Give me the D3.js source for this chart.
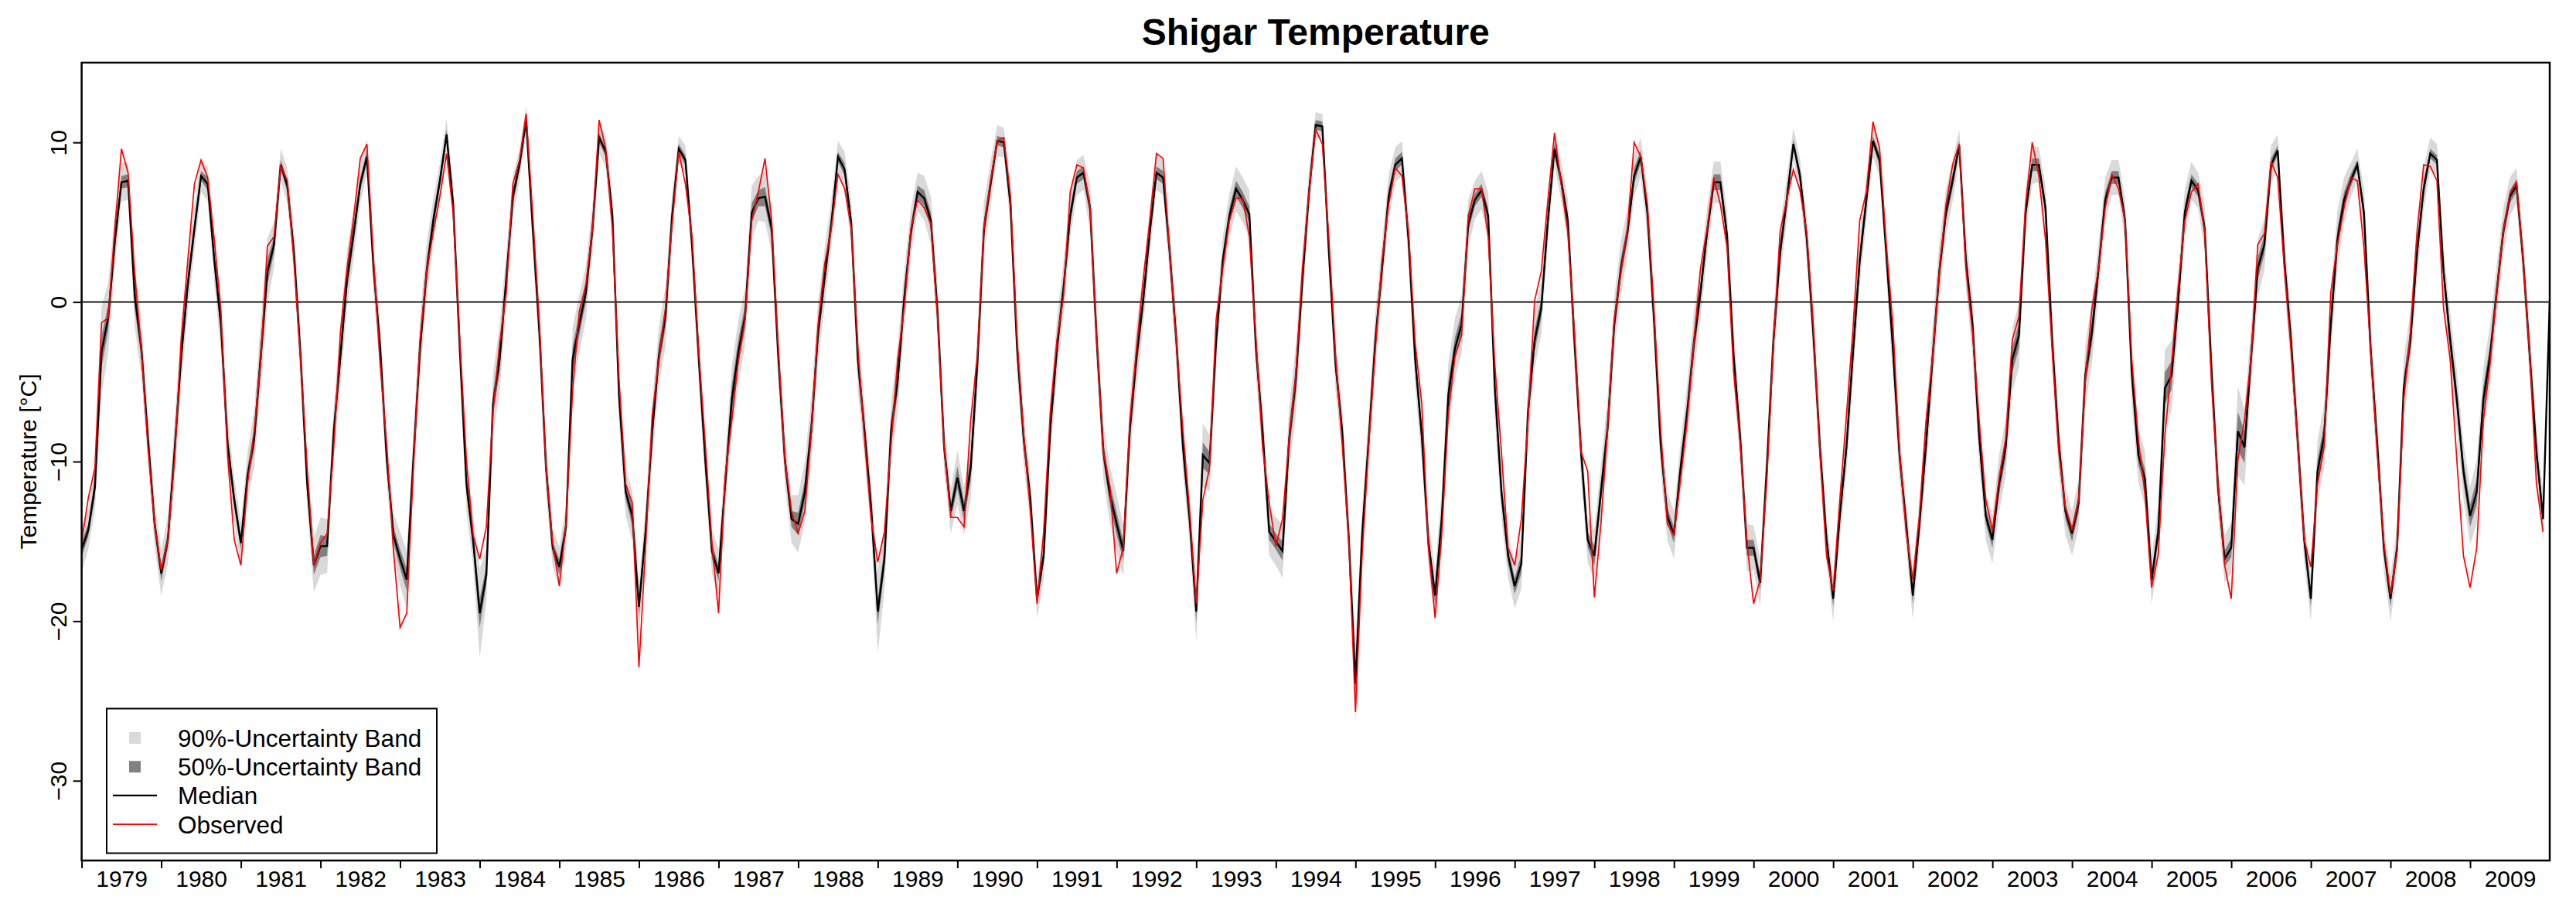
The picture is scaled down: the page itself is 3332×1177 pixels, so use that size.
<!DOCTYPE html>
<meta charset="utf-8">
<style>
body { margin: 0; background: #fff; }
text { font-family: "Liberation Sans", Arial, Helvetica, sans-serif; fill: #000; }
.band90 { fill: #d9d9d9; stroke: none; }
.band50 { fill: #808080; stroke: none; }
.median { fill: none; stroke: #000; stroke-width: 2.4; stroke-linejoin: miter; }
.observed { fill: none; stroke: #ff0000; stroke-width: 1.7; stroke-linejoin: miter; }
.axis path { display: none; }
.axis line { stroke: #000; stroke-width: 2; }
.axis text { font-size: 30px; }
</style>
<svg width="3332" height="1177"></svg>
<script src="https://cdn.jsdelivr.net/npm/d3@7/dist/d3.min.js"></script>
<script>

// monthly values, Jan 1979 .. Dec 2009 (one row per year)
var median = [
  -15.5, -14.3, -11.6, -3.1, -1.0, 3.8, 7.5, 7.6, 0.4, -2.9, -8.6, -13.9,
  -17.0, -14.9, -9.4, -3.4, 1.1, 4.6, 7.9, 7.4, 2.6, -1.4, -8.9, -12.4,
  -15.1, -10.9, -8.6, -3.4, 1.9, 3.6, 8.6, 7.3, 3.1, -3.4, -11.4, -16.5,
  -15.3, -15.3, -8.1, -3.4, 1.4, 4.3, 7.4, 9.1, 2.1, -2.9, -9.9, -14.6,
  -16.1, -17.4, -9.9, -2.9, 1.9, 5.1, 7.6, 10.5, 6.1, -2.9, -11.4, -14.9,
  -19.5, -17.1, -6.4, -3.6, 1.4, 6.6, 8.6, 11.4, 4.6, -1.9, -10.4, -15.4,
  -16.6, -14.1, -3.6, -1.4, 0.6, 4.6, 10.3, 9.4, 5.4, -5.9, -11.9, -13.4,
  -19.1, -14.4, -8.1, -3.4, -0.9, 5.4, 9.6, 8.9, 3.6, -3.4, -9.9, -15.6,
  -17.0, -11.4, -6.1, -3.1, -0.9, 5.6, 6.5, 6.6, 4.6, -3.4, -9.9, -13.6,
  -13.9, -11.9, -7.9, -1.9, 1.6, 4.9, 9.1, 8.3, 4.9, -3.6, -8.1, -12.9,
  -19.4, -16.1, -8.1, -4.9, 0.3, 4.4, 6.9, 6.5, 5.1, -0.6, -9.1, -13.1,
  -11.0, -13.1, -10.4, -3.9, 4.6, 7.4, 10.1, 10.0, 6.1, -2.9, -8.6, -12.4,
  -18.6, -15.9, -7.9, -2.9, 0.9, 5.4, 7.8, 8.1, 5.9, -2.4, -9.4, -12.1,
  -13.9, -15.6, -7.9, -3.4, 0.1, 4.4, 8.1, 7.8, 3.1, -2.4, -9.1, -13.6,
  -19.4, -9.6, -10.1, -2.4, 2.6, 5.4, 7.1, 6.4, 5.5, -2.9, -8.1, -14.4,
  -15.0, -15.6, -8.6, -4.9, 1.4, 6.9, 11.1, 11.0, 3.1, -3.9, -8.1, -14.9,
  -23.9, -14.6, -8.6, -2.4, 2.1, 6.6, 8.6, 9.0, 3.9, -3.6, -8.4, -15.1,
  -18.4, -13.6, -5.8, -2.9, -1.4, 4.9, 6.4, 7.0, 5.4, -5.4, -11.9, -15.9,
  -17.8, -16.4, -6.9, -2.4, -0.4, 5.1, 9.6, 7.6, 5.1, -2.4, -9.4, -14.9,
  -15.9, -11.9, -7.9, -1.4, 2.1, 4.4, 7.9, 9.1, 5.6, -1.1, -8.9, -13.4,
  -14.6, -10.4, -6.9, -2.6, 0.6, 4.4, 7.5, 7.5, 4.2, -3.4, -8.6, -15.4,
  -15.4, -17.6, -10.4, -2.4, 3.1, 6.4, 9.9, 7.9, 4.1, -1.9, -9.1, -14.9,
  -18.6, -13.4, -9.1, -3.1, 2.6, 6.4, 10.1, 8.9, 3.1, -2.9, -9.6, -13.9,
  -18.4, -13.9, -8.9, -3.4, 1.9, 5.6, 7.6, 9.8, 2.6, -1.4, -8.4, -13.4,
  -14.9, -11.4, -9.1, -3.6, -2.1, 5.6, 8.6, 8.6, 5.9, -2.4, -8.9, -13.1,
  -14.5, -12.6, -4.6, -1.9, 2.1, 6.4, 7.8, 7.8, 5.1, -4.4, -9.6, -11.1,
  -17.4, -14.4, -5.4, -4.6, 0.1, 5.6, 7.6, 7.0, 4.6, -4.1, -11.6, -16.1,
  -15.4, -8.1, -9.1, -3.4, 2.1, 3.6, 8.6, 9.5, 2.6, -2.4, -8.6, -14.9,
  -18.6, -10.6, -8.4, -1.4, 3.9, 6.4, 7.6, 8.6, 5.6, -2.9, -8.9, -15.4,
  -18.6, -15.4, -5.4, -2.4, 3.1, 7.1, 9.3, 8.9, 1.9, -2.4, -6.1, -10.6,
  -13.4, -11.9, -6.1, -3.4, 0.6, 4.4, 6.6, 7.3, 2.6, -3.4, -9.4, -13.6,
  0.0
];

var observed = [
  -15.0, -12.3, -10.4, -1.3, -1.0, 4.6, 9.6, 8.1, 1.8, -3.0, -9.1, -13.9,
  -16.8, -14.9, -9.9, -2.4, 2.6, 7.4, 8.9, 7.8, 3.9, -0.6, -9.6, -14.9,
  -16.5, -11.4, -8.1, -3.6, 3.5, 4.1, 8.5, 7.6, 2.6, -3.6, -10.4, -16.5,
  -15.1, -14.5, -9.1, -1.9, 2.1, 5.3, 9.0, 9.9, 2.6, -3.9, -9.1, -15.6,
  -20.4, -19.5, -10.4, -2.4, 1.9, 4.4, 6.6, 9.3, 5.6, -2.4, -9.9, -14.6,
  -16.1, -14.1, -6.9, -2.6, 0.6, 7.4, 8.9, 11.8, 5.4, -1.4, -10.4, -15.1,
  -17.8, -13.9, -5.6, -0.6, 1.1, 4.6, 11.4, 9.6, 4.6, -4.9, -11.4, -12.6,
  -22.9, -15.4, -7.1, -3.6, -0.4, 4.9, 9.4, 7.4, 4.1, -3.1, -8.9, -15.1,
  -19.5, -10.9, -7.4, -3.6, -1.1, 5.1, 6.9, 9.0, 5.1, -2.9, -9.9, -13.1,
  -14.5, -13.1, -8.1, -1.4, 2.4, 4.6, 8.0, 7.1, 4.6, -2.9, -8.6, -13.6,
  -16.3, -14.4, -8.9, -3.6, -0.3, 4.6, 6.4, 5.9, 4.9, -0.9, -9.1, -13.5,
  -13.5, -14.1, -7.4, -3.4, 4.6, 7.6, 10.1, 10.3, 6.6, -2.4, -8.4, -13.1,
  -18.9, -14.4, -6.9, -2.4, 0.4, 6.9, 8.6, 8.4, 5.9, -2.4, -9.4, -11.6,
  -17.0, -15.4, -7.4, -2.9, 1.4, 5.1, 9.3, 9.0, 3.1, -2.5, -8.1, -13.1,
  -18.9, -12.4, -10.4, -1.1, 2.1, 5.1, 6.5, 6.5, 4.1, -2.4, -9.1, -12.6,
  -15.3, -13.6, -8.6, -4.6, 2.1, 6.9, 10.8, 9.9, 3.9, -3.4, -8.9, -14.9,
  -25.7, -15.9, -8.9, -2.9, 2.6, 6.1, 8.4, 7.9, 4.4, -2.6, -6.4, -15.4,
  -19.8, -14.6, -7.0, -3.4, -2.1, 5.4, 7.1, 7.1, 4.1, -3.9, -9.4, -15.4,
  -16.5, -13.6, -7.4, 0.1, 1.9, 6.4, 10.6, 7.4, 4.4, -1.9, -9.4, -10.6,
  -18.5, -13.9, -7.9, -1.1, 1.9, 4.6, 10.0, 9.1, 6.1, -0.6, -8.1, -13.9,
  -14.6, -11.1, -7.4, -2.6, 2.1, 4.6, 7.8, 6.1, 3.5, -4.4, -8.9, -15.1,
  -18.9, -17.4, -11.1, -2.6, 4.4, 6.4, 8.3, 7.0, 4.4, -1.4, -9.4, -15.9,
  -18.1, -12.4, -7.1, -1.6, 5.1, 6.9, 11.3, 9.6, 3.6, -1.4, -9.4, -14.4,
  -17.4, -13.4, -7.4, -3.4, 1.9, 6.1, 8.6, 9.9, 2.1, -1.9, -7.4, -12.4,
  -14.3, -11.1, -8.6, -2.4, -0.9, 6.1, 10.0, 7.9, 3.9, -2.9, -9.4, -12.9,
  -14.3, -12.4, -4.9, -0.4, 2.1, 5.9, 8.0, 7.1, 5.1, -3.6, -8.6, -12.1,
  -17.9, -15.8, -8.4, -3.9, 0.9, 5.1, 6.9, 7.4, 4.4, -4.9, -11.4, -16.5,
  -18.6, -9.9, -7.4, -3.4, 3.6, 4.3, 8.8, 7.8, 2.1, -2.9, -8.6, -14.9,
  -16.6, -11.4, -9.1, 0.6, 3.6, 5.9, 7.8, 7.6, 3.4, -2.9, -9.4, -15.1,
  -18.3, -15.6, -6.1, -1.9, 4.4, 8.6, 8.5, 7.6, -0.4, -3.6, -9.9, -15.9,
  -17.9, -15.4, -7.4, -3.9, 0.6, 4.4, 6.8, 7.5, 2.6, -3.4, -11.4, -14.4
];

// half width of the 90% band around the median
var spread90 = [
  1.4, 1.2, 1.5, 2.8, 2.2, 1.7, 1.2, 1.2, 2.0, 1.8, 1.5, 1.5,
  1.4, 1.5, 1.9, 2.0, 1.7, 1.4, 1.0, 1.1, 1.4, 1.8, 1.7, 1.4,
  1.3, 1.5, 1.8, 2.2, 2.1, 1.4, 1.0, 1.1, 1.4, 1.7, 1.5, 1.7,
  1.8, 1.7, 1.5, 2.0, 1.8, 1.6, 1.2, 1.1, 1.5, 1.7, 1.5, 1.4,
  1.7, 1.8, 1.7, 1.9, 1.8, 1.4, 1.1, 1.0, 1.4, 1.7, 1.7, 1.6,
  2.8, 1.7, 1.9, 2.1, 1.7, 1.3, 1.0, 0.9, 1.4, 1.7, 1.6, 1.2,
  1.3, 1.4, 2.0, 1.8, 1.7, 1.6, 1.0, 1.0, 1.4, 1.7, 1.5, 1.6,
  1.6, 1.5, 1.9, 1.8, 1.9, 1.4, 0.8, 0.9, 1.4, 1.7, 1.5, 1.4,
  1.5, 1.7, 2.1, 2.0, 1.8, 1.7, 1.4, 1.6, 1.5, 1.7, 1.6, 1.5,
  1.8, 1.9, 2.1, 1.9, 1.8, 1.5, 1.0, 1.1, 1.5, 2.0, 1.7, 1.6,
  2.6, 2.0, 1.8, 2.1, 1.7, 1.5, 1.2, 1.4, 1.5, 1.7, 1.5, 1.4,
  1.7, 1.5, 2.0, 1.9, 1.7, 1.4, 1.0, 0.9, 1.4, 1.8, 1.6, 1.5,
  1.2, 1.5, 1.9, 1.8, 1.7, 1.4, 1.1, 1.1, 1.5, 1.7, 1.7, 1.8,
  1.8, 1.6, 1.8, 2.0, 1.7, 1.5, 1.1, 1.1, 1.5, 1.7, 1.6, 1.5,
  1.9, 2.0, 1.8, 1.7, 1.5, 1.4, 1.4, 1.4, 1.5, 1.8, 1.6, 1.5,
  1.5, 1.7, 2.0, 2.2, 1.7, 1.4, 0.8, 0.8, 1.5, 1.7, 1.6, 1.4,
  2.5, 1.6, 1.7, 1.8, 1.6, 1.4, 1.1, 1.1, 1.5, 1.7, 1.7, 1.5,
  1.6, 1.8, 2.0, 1.9, 1.8, 1.5, 1.2, 1.2, 1.5, 1.9, 1.7, 1.4,
  1.4, 1.6, 1.9, 1.8, 1.6, 1.4, 1.1, 1.2, 1.4, 1.7, 1.6, 1.4,
  1.6, 1.8, 1.9, 1.7, 1.7, 1.5, 1.3, 1.2, 1.5, 1.8, 1.7, 1.5,
  1.5, 1.6, 1.8, 2.0, 1.7, 1.5, 1.3, 1.3, 1.5, 1.7, 1.6, 1.5,
  1.4, 1.5, 1.7, 1.8, 1.6, 1.4, 1.0, 1.1, 1.4, 1.7, 1.6, 1.4,
  1.4, 1.5, 1.7, 1.8, 1.6, 1.4, 1.0, 1.1, 1.5, 1.8, 1.6, 1.5,
  1.5, 1.6, 1.8, 2.0, 1.8, 1.5, 1.3, 1.0, 1.7, 1.9, 1.7, 1.5,
  1.5, 1.8, 1.8, 2.0, 2.0, 1.5, 1.2, 1.1, 1.4, 1.8, 1.8, 1.5,
  1.4, 1.6, 1.9, 2.0, 1.6, 1.4, 1.1, 1.1, 1.4, 2.0, 1.7, 1.7,
  1.5, 1.7, 2.4, 2.2, 1.8, 1.5, 1.2, 1.1, 1.5, 1.8, 1.7, 1.5,
  1.6, 2.8, 2.4, 1.9, 1.8, 1.6, 1.2, 1.0, 1.5, 1.8, 1.6, 1.5,
  1.4, 1.9, 2.0, 2.0, 1.8, 1.4, 1.1, 1.0, 1.5, 1.8, 1.7, 1.5,
  1.4, 1.5, 1.9, 1.8, 1.7, 1.4, 1.0, 1.0, 1.5, 1.8, 1.8, 1.8,
  1.8, 2.0, 2.0, 1.9, 1.7, 1.5, 1.2, 1.1, 1.4, 1.7, 1.7, 1.5
];

// half width of the 50% band around the median
var spread50 = [
  0.5, 0.4, 0.6, 1.0, 0.8, 0.6, 0.4, 0.4, 0.8, 0.7, 0.5, 0.5,
  0.5, 0.5, 0.7, 0.8, 0.6, 0.5, 0.3, 0.4, 0.5, 0.7, 0.6, 0.5,
  0.4, 0.5, 0.7, 0.9, 0.8, 0.5, 0.3, 0.4, 0.5, 0.6, 0.5, 0.6,
  0.7, 0.6, 0.5, 0.7, 0.7, 0.6, 0.4, 0.4, 0.5, 0.6, 0.5, 0.5,
  0.6, 0.7, 0.6, 0.7, 0.7, 0.5, 0.4, 0.3, 0.5, 0.6, 0.6, 0.6,
  0.9, 0.6, 0.7, 0.8, 0.6, 0.5, 0.3, 0.3, 0.5, 0.6, 0.6, 0.4,
  0.5, 0.5, 0.8, 0.7, 0.6, 0.6, 0.3, 0.3, 0.5, 0.6, 0.5, 0.6,
  0.6, 0.5, 0.7, 0.7, 0.7, 0.5, 0.3, 0.3, 0.5, 0.6, 0.5, 0.5,
  0.5, 0.6, 0.9, 0.8, 0.7, 0.6, 0.5, 0.6, 0.5, 0.6, 0.6, 0.5,
  0.7, 0.7, 0.8, 0.7, 0.7, 0.5, 0.3, 0.4, 0.5, 0.8, 0.6, 0.6,
  0.8, 0.7, 0.7, 0.8, 0.6, 0.5, 0.4, 0.5, 0.5, 0.6, 0.5, 0.5,
  0.7, 0.6, 0.8, 0.7, 0.6, 0.5, 0.3, 0.3, 0.5, 0.7, 0.6, 0.5,
  0.4, 0.5, 0.7, 0.7, 0.6, 0.5, 0.4, 0.4, 0.5, 0.6, 0.6, 0.7,
  0.7, 0.6, 0.7, 0.8, 0.6, 0.5, 0.4, 0.4, 0.5, 0.6, 0.6, 0.5,
  0.7, 0.8, 0.7, 0.6, 0.5, 0.5, 0.5, 0.5, 0.5, 0.7, 0.6, 0.5,
  0.5, 0.6, 0.8, 0.9, 0.6, 0.5, 0.3, 0.3, 0.5, 0.6, 0.6, 0.5,
  0.8, 0.6, 0.6, 0.7, 0.6, 0.5, 0.4, 0.4, 0.5, 0.6, 0.6, 0.5,
  0.6, 0.7, 0.8, 0.7, 0.7, 0.5, 0.4, 0.4, 0.5, 0.7, 0.6, 0.5,
  0.5, 0.6, 0.7, 0.7, 0.6, 0.5, 0.4, 0.4, 0.5, 0.6, 0.6, 0.5,
  0.6, 0.7, 0.7, 0.6, 0.6, 0.5, 0.5, 0.4, 0.5, 0.7, 0.6, 0.5,
  0.5, 0.6, 0.7, 0.8, 0.6, 0.5, 0.5, 0.5, 0.5, 0.6, 0.6, 0.5,
  0.5, 0.5, 0.6, 0.7, 0.6, 0.5, 0.3, 0.4, 0.5, 0.6, 0.6, 0.5,
  0.5, 0.5, 0.6, 0.7, 0.6, 0.5, 0.3, 0.4, 0.5, 0.7, 0.6, 0.5,
  0.5, 0.6, 0.7, 0.8, 0.7, 0.5, 0.5, 0.3, 0.6, 0.7, 0.6, 0.5,
  0.5, 0.7, 0.7, 0.8, 0.8, 0.5, 0.4, 0.4, 0.5, 0.7, 0.7, 0.5,
  0.5, 0.6, 0.7, 0.8, 0.6, 0.5, 0.4, 0.4, 0.5, 0.8, 0.6, 0.6,
  0.5, 0.6, 1.0, 0.9, 0.7, 0.5, 0.4, 0.4, 0.5, 0.7, 0.6, 0.5,
  0.6, 1.2, 1.0, 0.7, 0.7, 0.6, 0.4, 0.3, 0.5, 0.7, 0.6, 0.5,
  0.5, 0.7, 0.8, 0.8, 0.7, 0.5, 0.4, 0.3, 0.5, 0.7, 0.6, 0.5,
  0.5, 0.5, 0.7, 0.7, 0.6, 0.5, 0.3, 0.3, 0.5, 0.7, 0.7, 0.7,
  0.7, 0.8, 0.8, 0.7, 0.6, 0.5, 0.4, 0.4, 0.5, 0.6, 0.6, 0.5
];

var years = d3.range(1979, 2010);
var yTicks = [10, 0, -10, -20, -30];
var legendLabels = ["90%-Uncertainty Band", "50%-Uncertainty Band", "Median", "Observed"];

var svg = d3.select("svg"),
    width = +svg.attr("width"),
    height = +svg.attr("height");

var plot = {left: 105.6, right: 3298, top: 81, bottom: 1113};

var x = d3.scaleLinear()
    .domain([1979, 2010])
    .range([plot.left, plot.right]);

var y = d3.scaleLinear()
    .domain([-35, 15])
    .range([plot.bottom, plot.top]);

function t(i) { return 1979 + i / 12; }

svg.append("rect")
    .attr("width", width)
    .attr("height", height)
    .attr("fill", "#fff");

svg.append("clipPath")
    .attr("id", "clip")
  .append("rect")
    .attr("x", plot.left)
    .attr("y", plot.top)
    .attr("width", plot.right - plot.left)
    .attr("height", plot.bottom - plot.top);

var g = svg.append("g").attr("clip-path", "url(#clip)");

var months = d3.range(observed.length);

var band = function(spread) {
  return d3.area()
      .x(function(i) { return x(t(i)); })
      .y0(function(i) { return y(median[i] - spread[i]); })
      .y1(function(i) { return y(median[i] + spread[i]); });
};

g.append("path")
    .datum(months)
    .attr("class", "band90")
    .attr("d", band(spread90));

g.append("path")
    .datum(months)
    .attr("class", "band50")
    .attr("d", band(spread50));

g.append("line")
    .attr("x1", plot.left)
    .attr("x2", plot.right)
    .attr("y1", y(0))
    .attr("y2", y(0))
    .attr("stroke", "#000")
    .attr("stroke-width", 1.8);

var line = d3.line()
    .x(function(d, i) { return x(t(i)); })
    .y(function(d) { return y(d); });

g.append("path")
    .datum(median)
    .attr("class", "median")
    .attr("d", line);

g.append("path")
    .datum(observed)
    .attr("class", "observed")
    .attr("d", line);

// axes
var yAxis = svg.append("g")
    .attr("class", "axis")
    .attr("transform", "translate(" + plot.left + ",0)")
    .call(d3.axisLeft(y).tickValues(yTicks).tickSize(11).tickFormat(d3.format("d")));

yAxis.selectAll("text")
    .attr("x", null)
    .attr("dy", null)
    .attr("text-anchor", "middle")
    .attr("transform", "translate(-19.6,0) rotate(-90)");

svg.append("g")
    .attr("class", "axis")
    .attr("transform", "translate(0," + plot.bottom + ")")
    .call(d3.axisBottom(x).tickValues(years).tickSize(10).tickFormat(""));

svg.append("g")
    .attr("class", "axis")
    .attr("transform", "translate(0," + plot.bottom + ")")
    .call(d3.axisBottom(x).tickValues(years.map(function(d) { return d + 0.5; }))
      .tickSize(0).tickPadding(13)
      .tickFormat(function(d) { return Math.floor(d); }));

svg.append("rect")
    .attr("x", plot.left)
    .attr("y", plot.top)
    .attr("width", plot.right - plot.left)
    .attr("height", plot.bottom - plot.top)
    .attr("fill", "none")
    .attr("stroke", "#000")
    .attr("stroke-width", 2.5);

svg.append("text")
    .attr("x", (plot.left + plot.right) / 2)
    .attr("y", 58)
    .attr("text-anchor", "middle")
    .attr("font-size", "48px")
    .attr("font-weight", "bold")
    .text("Shigar Temperature");

svg.append("text")
    .attr("transform", "translate(47," + (plot.top + plot.bottom) / 2 + ") rotate(-90)")
    .attr("text-anchor", "middle")
    .attr("font-size", "30px")
    .text("Temperature [°C]");

// legend
var legend = svg.append("g").attr("transform", "translate(138,916.5)");

legend.append("rect")
    .attr("width", 427)
    .attr("height", 187)
    .attr("fill", "#fff")
    .attr("stroke", "#000")
    .attr("stroke-width", 2);

var row = legend.selectAll(".row")
  .data(legendLabels)
  .enter().append("g")
    .attr("class", "row")
    .attr("transform", function(d, i) { return "translate(0," + (38 + i * 37.2) + ")"; });

row.each(function(d, i) {
  var r = d3.select(this);
  if (i < 2) {
    r.append("rect")
        .attr("x", 29)
        .attr("y", -7.5)
        .attr("width", 15)
        .attr("height", 15)
        .attr("fill", i === 0 ? "#d9d9d9" : "#808080");
  } else {
    r.append("line")
        .attr("x1", 8)
        .attr("x2", 65)
        .attr("stroke", i === 2 ? "#000" : "#ff0000")
        .attr("stroke-width", i === 2 ? 2.4 : 1.7);
  }
});

row.append("text")
    .attr("x", 92)
    .attr("y", 11.5)
    .attr("font-size", "31.5px")
    .text(function(d) { return d; });

</script>
